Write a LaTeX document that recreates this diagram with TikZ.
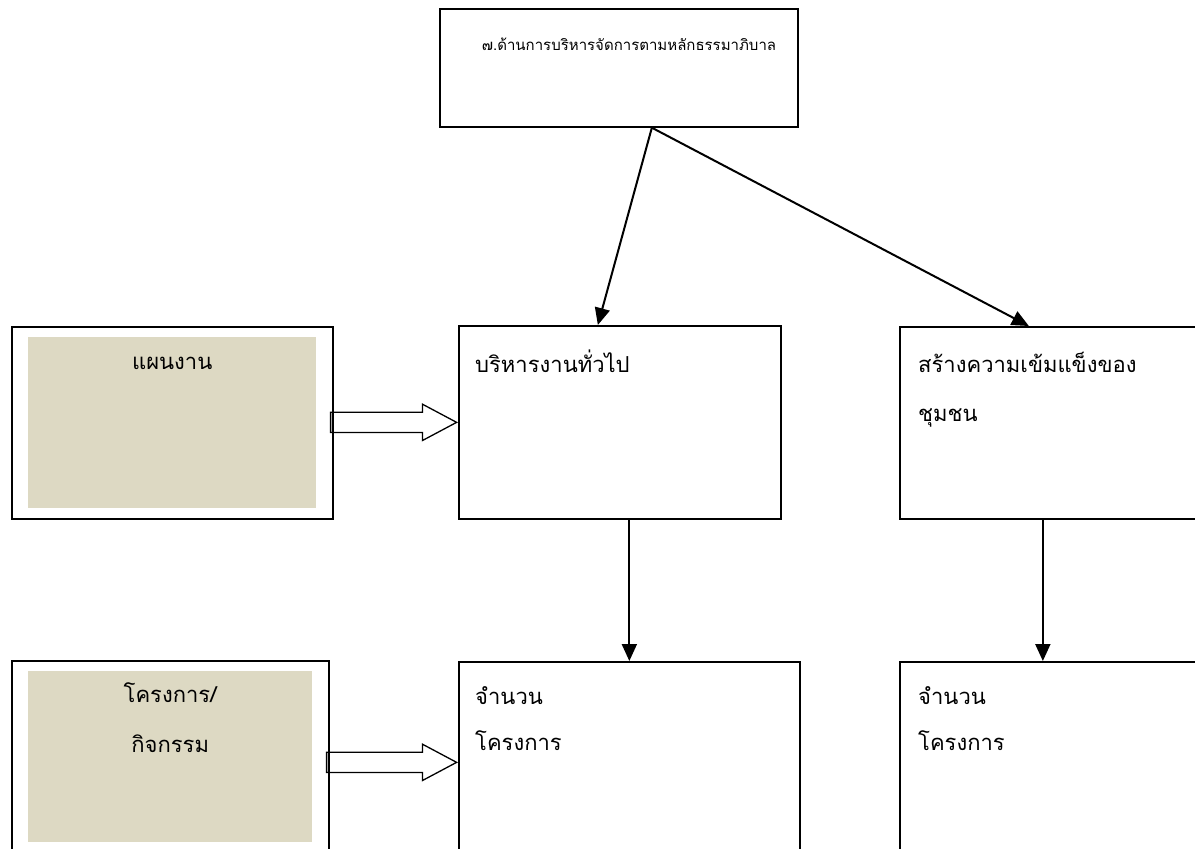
\documentclass[tikz,border=0pt]{standalone}
\usepackage{fontspec}
\newfontfamily\thaifont[Script=Thai]{Loma}
\usetikzlibrary{calc}
\usetikzlibrary{positioning}
\usetikzlibrary{arrows.meta}
\usetikzlibrary{shapes.arrows}
\definecolor{planfill}{RGB}{221,217,195}

\begin{document}
\begin{tikzpicture}[x=1pt,y=-1pt,
		box/.style={draw,line width=1.7pt,anchor=north west,inner sep=0pt},
		shadebox/.style={fill=planfill,anchor=north west,inner sep=0pt},
		txt/.style={anchor=base west,inner sep=0pt,font=\thaifont\fontsize{22}{26}\selectfont},
		ctxt/.style={txt,anchor=base},
		link/.style={line width=2pt,-{Triangle[length=17pt,width=15pt]}},
		blockarr/.style={draw,line width=1.3pt,single arrow,anchor=tip,inner xsep=0pt,inner ysep=9.5pt,
			single arrow head extend=8pt,single arrow tip angle=56}]
		\useasboundingbox (0,0) rectangle (1195,849);
		\clip (0,0) rectangle (1195,849);
		% top
		\node[box,minimum width=358pt,minimum height=118pt] (goal) at (439,8) {};
		\node[ctxt,font=\thaifont\fontsize{15}{18}\selectfont] (goaltxt) at (629,50) {๗.ด้านการบริหารจัดการตามหลักธรรมาภิบาล};
		% first row
		\node[box,minimum width=321pt,minimum height=192pt] (plan) at (11,326) {};
		\node[shadebox,minimum width=288pt,minimum height=171pt] (planbg) at ($(plan.north west)+(17,11)$) {};
		\node[ctxt] (plantxt) at ($(planbg.north)+(0,32)$) {แผนงาน};
		\node[box,minimum width=322pt,minimum height=193pt] (admin) at (458,325) {};
		\node[txt] (admintxt) at ($(admin.north west)+(17,47)$) {บริหารงานทั่วไป};
		\node[box,minimum width=320pt,minimum height=192pt] (comm) at (899,326) {};
		\node[txt] (commtxt) at ($(comm.north west)+(19,46)$) {สร้างความเข้มแข็งของ};
		\node[txt] (commtxtb) at ($(comm.north west)+(19,95)$) {ชุมชน};
		% second row
		\node[box,minimum width=317pt,minimum height=202pt] (proj) at (11,660) {};
		\node[shadebox,minimum width=284pt,minimum height=171pt] (projbg) at ($(proj.north west)+(17,11)$) {};
		\node[ctxt] (projtxt) at ($(projbg.north)+(0,31)$) {โครงการ/};
		\node[ctxt] (projtxtb) at ($(projbg.north)+(0,81)$) {กิจกรรม};
		\node[box,minimum width=341pt,minimum height=201pt] (count) at (458,661) {};
		\node[txt] (counttxt) at ($(count.north west)+(17,43)$) {จำนวน};
		\node[txt] (counttxtb) at ($(count.north west)+(17,89)$) {โครงการ};
		\node[box,minimum width=320pt,minimum height=201pt] (countb) at (899,661) {};
		\node[txt] (countbtxt) at ($(countb.north west)+(19,43)$) {จำนวน};
		\node[txt] (countbtxtb) at ($(countb.north west)+(19,89)$) {โครงการ};
		% connectors
		\coordinate (fork) at ($(goal.south)+(33,0)$);
		\draw[link] (fork) -- ($(admin.north)+(-22,0)$);
		\draw[link] (fork) -- ($(comm.north)+(-31,0)$);
		\draw[link] (admin.south -| count.north) -- (count.north);
		\draw[link] ($(comm.south)+(-17,0)$) -- ($(countb.north)+(-17,0)$);
		\node[blockarr,minimum height=126pt] (planarr) at (admin.west) {};
		\node[blockarr,minimum height=130pt] (projarr) at (count.west) {};
	\end{tikzpicture}
\end{document}
